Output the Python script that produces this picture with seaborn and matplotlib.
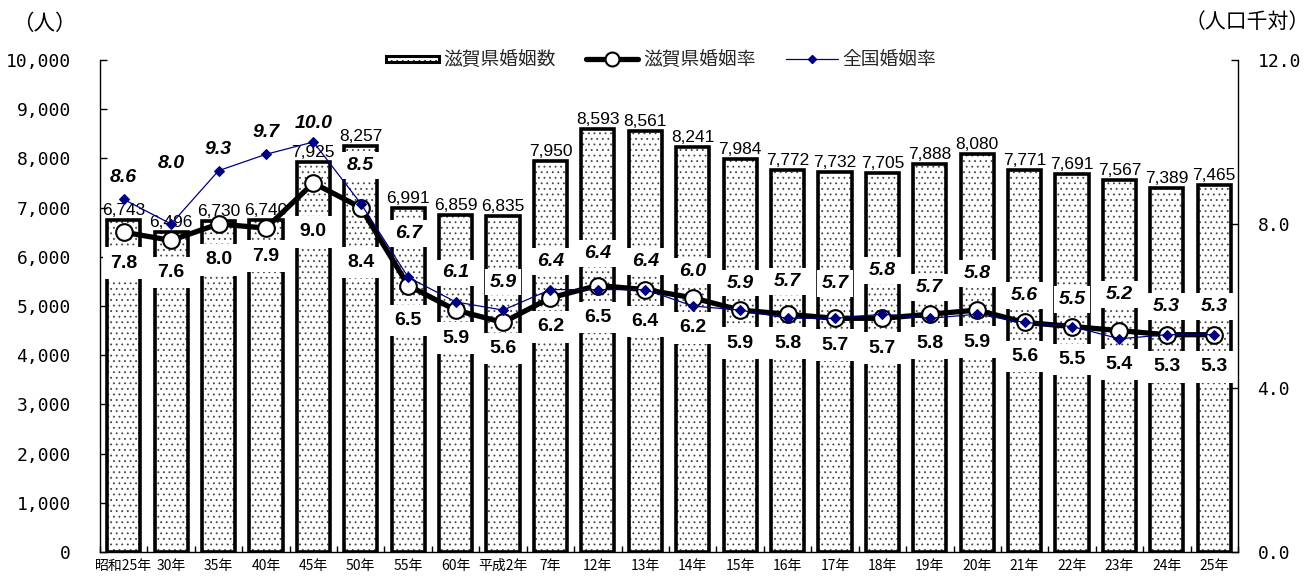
import numpy as np
import pandas as pd
import matplotlib
matplotlib.use("Agg")
import matplotlib.pyplot as plt
import seaborn as sns
from matplotlib.lines import Line2D
from matplotlib.patches import Rectangle
from matplotlib.legend_handler import HandlerPatch
from matplotlib.ticker import FuncFormatter

# ---- data ----
years = ["昭和25年", "30年", "35年", "40年", "45年", "50年", "55年", "60年",
         "平成2年", "7年", "12年", "13年", "14年", "15年", "16年", "17年",
         "18年", "19年", "20年", "21年", "22年", "23年", "24年", "25年"]
marriages = [6743, 6496, 6730, 6740, 7925, 8257, 6991, 6859, 6835, 7950, 8593, 8561,
             8241, 7984, 7772, 7732, 7705, 7888, 8080, 7771, 7691, 7567, 7389, 7465]
shiga_rate = [7.8, 7.6, 8.0, 7.9, 9.0, 8.4, 6.5, 5.9, 5.6, 6.2, 6.5, 6.4,
              6.2, 5.9, 5.8, 5.7, 5.7, 5.8, 5.9, 5.6, 5.5, 5.4, 5.3, 5.3]
national_rate = [8.6, 8.0, 9.3, 9.7, 10.0, 8.5, 6.7, 6.1, 5.9, 6.4, 6.4, 6.4,
                 6.0, 5.9, 5.7, 5.7, 5.8, 5.7, 5.8, 5.6, 5.5, 5.2, 5.3, 5.3]

# vertical placement of the rate labels (pixels from their point)
national_dy = [22, 61, 21, 22, 19, 38, 44, 29, 28, 28, 36, 28,
               35, 27, 37, 35, 44, 31, 41, 27, 27, 44, 28, 28]
shiga_dy = [31, 32, 36, 28, 49, 55, 35, 28, 26, 29, 32, 32,
            30, 33, 29, 27, 30, 29, 32, 34, 33, 34, 32, 32]

NAVY = "#000080"
NUM_FONT = "Liberation Sans"
TICK_FONT = "DejaVu Sans Mono"
BAR_EDGE = 2.6

sns.set_theme(style="white")
plt.rcParams["font.family"] = ["Noto Sans CJK JP", "DejaVu Sans"]
plt.rcParams["hatch.linewidth"] = 0.6

df = pd.DataFrame({"year": years, "count": marriages,
                   "shiga": shiga_rate, "national": national_rate})
xpos = np.arange(len(years))

fig = plt.figure(figsize=(13.16, 5.76), dpi=100)
ax = fig.add_axes([100 / 1316, 24 / 576, 1138 / 1316, 492 / 576])

# bars: dotted fill, then a heavy black outline on top
sns.barplot(data=df, x="year", y="count", order=years, color="white",
            saturation=1, edgecolor="#444444", linewidth=0, width=0.7,
            hatch="...", ax=ax, zorder=2)
n_fill = len(ax.patches)
sns.barplot(data=df, x="year", y="count", order=years, color="white",
            saturation=1, edgecolor="black", linewidth=BAR_EDGE, width=0.7,
            ax=ax, zorder=2.1)
for p in ax.patches[n_fill:]:
    p.set_facecolor("none")

for i, v in enumerate(marriages):
    ax.annotate(f"{v:,}", (i, v), xytext=(0, 2), textcoords="offset pixels",
                ha="center", va="bottom", fontsize=12.5, family=NUM_FONT,
                color="black")

# rates on the secondary axis
ax2 = ax.twinx()
sns.lineplot(x=xpos, y=shiga_rate, ax=ax2, color="black", lw=3.8,
             marker="o", markersize=12, markerfacecolor="white",
             markeredgecolor="black", markeredgewidth=1.5, zorder=3)
sns.lineplot(x=xpos, y=national_rate, ax=ax2, color=NAVY, lw=0.9,
             marker="D", markersize=5, markerfacecolor=NAVY,
             markeredgecolor=NAVY, zorder=4)

for i, (v, d) in enumerate(zip(shiga_rate, shiga_dy)):
    ax2.annotate(f"{v:.1f}", (i, v), xytext=(0, -d), textcoords="offset pixels",
                 ha="center", va="center", fontsize=14, fontweight="bold",
                 family=NUM_FONT, color="black", zorder=2,
                 bbox=dict(boxstyle="square,pad=0.38", fc="white", ec="none"))
for i, (v, d) in enumerate(zip(national_rate, national_dy)):
    ax2.annotate(f"{v:.1f}", (i, v), xytext=(0, d), textcoords="offset pixels",
                 ha="center", va="center", fontsize=14, fontweight="bold",
                 fontstyle="italic", family=NUM_FONT, color="black", zorder=2,
                 bbox=dict(boxstyle="square,pad=0.25", fc="white", ec="none"))

# axes limits and ticks
ax.set_xlim(-0.5, len(years) - 0.5)
ax.set_ylim(0, 10000)
ax2.set_ylim(0, 12)
ax.set_yticks(np.arange(0, 10001, 1000))
ax2.set_yticks([0, 4, 8, 12])
ax.yaxis.set_major_formatter(FuncFormatter(lambda v, p: f"{int(v):,}"))
ax2.yaxis.set_major_formatter(FuncFormatter(lambda v, p: f"{v:.1f}"))
ax.set_xlabel("")
ax.set_ylabel("")
ax2.set_ylabel("")

ax.set_xticks(xpos)
ax.set_xticklabels(years, fontsize=10, color="black")
ax.set_xticks(np.arange(-0.5, len(years)), minor=True)
ax.tick_params(axis="x", which="major", length=0, pad=5)
ax.tick_params(axis="x", which="minor", bottom=True, direction="in",
               length=4, width=1, color="black")
ax.tick_params(axis="y", left=True, direction="in", length=5, width=1,
               color="black", pad=21, labelsize=13, labelcolor="black")
ax2.tick_params(axis="y", right=True, direction="in", length=5, width=1,
                color="black", pad=14, labelsize=13, labelcolor="black")
for lab in ax.get_yticklabels() + ax2.get_yticklabels():
    lab.set_family(TICK_FONT)

for s in ("top", "right"):
    ax.spines[s].set_visible(False)
for s in ("top", "left", "bottom"):
    ax2.spines[s].set_visible(False)
for sp in (ax.spines["left"], ax.spines["bottom"], ax2.spines["right"]):
    sp.set_color("black")
    sp.set_linewidth(1.0)


# legend with a flat dotted swatch
def flat_rect(legend, orig_handle, xdescent, ydescent, width, height, fontsize):
    h = height * 0.5
    return Rectangle((-xdescent, -ydescent + (height - h) / 2), width, h)


bar_handle = Rectangle((0, 0), 1, 1, facecolor="white", edgecolor="black",
                       linewidth=2.2, hatch="...")
shiga_handle = Line2D([], [], color="black", lw=3.8, marker="o", markersize=10,
                      markerfacecolor="white", markeredgecolor="black",
                      markeredgewidth=1.5)
nat_handle = Line2D([], [], color=NAVY, lw=0.9, marker="D", markersize=4,
                    markerfacecolor=NAVY, markeredgecolor=NAVY)
fig.legend([bar_handle, shiga_handle, nat_handle],
           ["滋賀県婚姻数", "滋賀県婚姻率", "全国婚姻率"],
           handler_map={Rectangle: HandlerPatch(patch_func=flat_rect)},
           loc="center", bbox_to_anchor=(0.5025, 1 - 60 / 576), ncol=3,
           frameon=False, fontsize=13.5, handlelength=2.8,
           handletextpad=0.25, columnspacing=1.6)

# unit captions
fig.text(12 / 1316, 1 - 24 / 576, "（人）", ha="left", va="center", fontsize=15.5,
         color="black")
fig.text(1310 / 1316, 1 - 22 / 576, "（人口千対）", ha="right", va="center",
         fontsize=15, color="black")

fig.savefig("out.png", dpi=100)
